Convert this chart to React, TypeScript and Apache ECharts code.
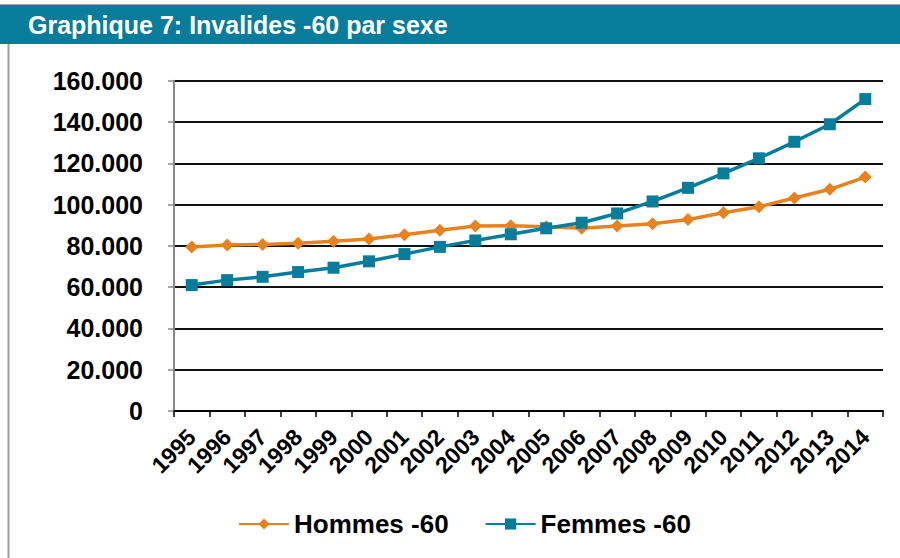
import React, { useEffect, useRef } from "react";
import * as echarts from "echarts";

const years = ["1995","1996","1997","1998","1999","2000","2001","2002","2003","2004","2005","2006","2007","2008","2009","2010","2011","2012","2013","2014"];
const hommes = [79500,80400,80700,81300,82200,83300,85400,87600,89600,89700,89200,88500,89600,90700,92800,96000,98900,103200,107400,113300];
const femmes = [61000,63400,65000,67300,69400,72500,76000,79500,82600,85600,88500,91200,95700,101500,108100,115100,122400,130400,138900,151100];
const yTicks = { min: 0, max: 160000, interval: 20000 };

const FONT = "'Liberation Sans', Arial, sans-serif";
const ORANGE = "#E8821F";
const TEAL = "#077D9B";

function fmt(v: number): string {
  if (v === 0) return "0";
  const s = String(Math.round(v));
  return s.replace(/\B(?=(\d{3})+(?!\d))/g, ".");
}

export default function App() {
  const ref = useRef<HTMLDivElement>(null);
  useEffect(() => {
    if (!ref.current) return;
    const chart = echarts.init(ref.current, null, { renderer: "svg" });
    chart.setOption({
      animation: false,
      backgroundColor: "#ffffff",
      textStyle: { fontFamily: FONT },
      graphic: [
        { type: "rect", shape: { x: 0, y: 4, width: 900, height: 40 }, style: { fill: TEAL }, z: 0 },
        { type: "line", shape: { x1: 0, y1: 4.5, x2: 900, y2: 4.5 }, style: { stroke: "#9aa8ad", lineWidth: 1 } },
        { type: "line", shape: { x1: 8.5, y1: 44, x2: 8.5, y2: 558 }, style: { stroke: "#a0a0a0", lineWidth: 2 } },
        {
          type: "text", x: 28, y: 25,
          style: { text: "Graphique 7: Invalides -60 par sexe", fill: "#ffffff", font: `bold 25px ${FONT}`, textVerticalAlign: "middle" },
        },
      ],
      grid: { left: 174, right: 17, top: 80.7, bottom: 147, containLabel: false },
      legend: {
        left: 233, top: 506, itemWidth: 50, itemHeight: 14, itemGap: 36,
        textStyle: { fontFamily: FONT, fontWeight: "bold", fontSize: 26, color: "#000" },
        data: ["Hommes -60", "Femmes -60"],
      },
      xAxis: {
        type: "category", data: years, boundaryGap: true,
        axisLine: { lineStyle: { color: "#000", width: 2 } },
        axisTick: { show: true, length: 6, lineStyle: { color: "#000", width: 1.5 } },
        axisLabel: { rotate: 45, interval: 0, margin: 22, color: "#000", fontFamily: FONT, fontWeight: "bold", fontSize: 23 },
      },
      yAxis: {
        type: "value", min: yTicks.min, max: yTicks.max, interval: yTicks.interval,
        axisLine: { show: true, lineStyle: { color: "#888", width: 2 } },
        axisTick: { show: true, length: 6, lineStyle: { color: "#888", width: 1.5 } },
        splitLine: { show: true, lineStyle: { color: "#111", width: 2 } },
        axisLabel: { margin: 31, color: "#000", fontFamily: FONT, fontWeight: "bold", fontSize: 25, formatter: (v: number) => fmt(v) },
      },
      series: [
        {
          name: "Hommes -60", type: "line", data: hommes, color: ORANGE,
          symbol: "diamond", symbolSize: 13, lineStyle: { width: 3.5, color: ORANGE },
          itemStyle: { color: ORANGE },
        },
        {
          name: "Femmes -60", type: "line", data: femmes, color: TEAL,
          symbol: "rect", symbolSize: 12, lineStyle: { width: 3.5, color: TEAL },
          itemStyle: { color: TEAL },
        },
      ],
    });
    return () => chart.dispose();
  }, []);
  return <div ref={ref} style={{ position: "fixed", left: 0, top: 0, width: 900, height: 558 }} />;
}
